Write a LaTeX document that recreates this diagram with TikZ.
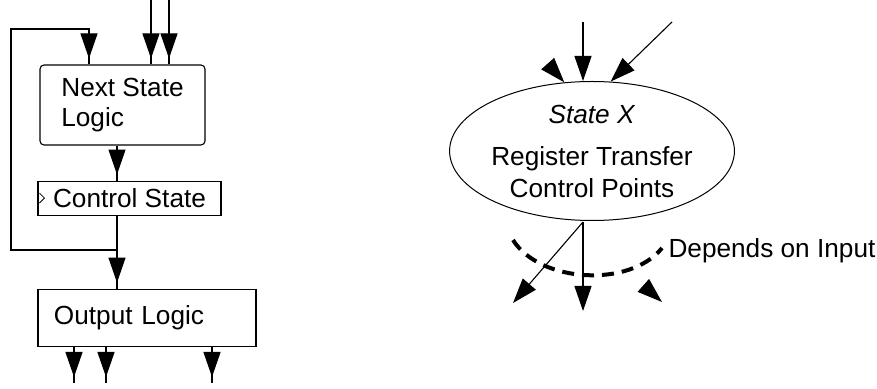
\documentclass[tikz,border=0pt]{standalone}
\usepackage{fontspec}
\setmainfont{Liberation Sans}
\usetikzlibrary{arrows.meta,positioning,shapes.geometric,decorations.markings}

\begin{document}
\begin{tikzpicture}[x=0.5pt,y=-0.5pt,>={Triangle[length=12.5pt,width=8.5pt]},
  line width=0.55pt,
  every node/.style={font=\fontsize{13.1}{15}\selectfont},
  logic box/.style={draw,rectangle,inner sep=0pt},
  state node/.style={draw,ellipse,inner sep=0pt,align=center,line width=0.5pt,
    minimum width=140.5pt,minimum height=69.5pt,
    font=\fontsize{13.1}{16}\selectfont},
  tip before/.style={postaction={decorate},decoration={markings,
    mark=at position -3pt with {\arrow{>}}}},
  depend line/.style={line width=2pt,dash pattern=on 6pt off 4pt}]
  \useasboundingbox (0,0) rectangle (877,389);

  % left: next state logic, control state, output logic
  \node[logic box,rounded corners=2pt,minimum width=82.5pt,minimum height=40pt,
    align=left] (nsl) at (122.5,105) {Next State\\Logic};
  \node[logic box,minimum width=91.5pt,minimum height=17pt] (cs)
    [below=17.5pt of nsl.south west,anchor=north west,xshift=-1pt] {Control State};
  \node[logic box,minimum height=28.5pt,text width=93pt,inner xsep=8pt,
    align=left] (olog) [below=36.5pt of cs.south west,anchor=north west]
    {Output Logic};
  \draw[line width=0.4pt] (cs.west) ++(2,-5) -- ++(5,5) -- ++(-5,5);

  \coordinate (j) at (117,250);
  \coordinate (fb) at (11,29);
  \coordinate (fbin) at (89,29);
  \coordinate (in1) at (151,0);
  \coordinate (in2) at (169,0);
  \coordinate (out1) at (74,383);
  \coordinate (out2) at (106,383);
  \coordinate (out3) at (212,383);

  \draw[tip before] (in1) -- (in1 |- nsl.north);
  \draw[tip before] (in2) -- (in2 |- nsl.north);
  \draw[tip before] (nsl.south -| j) -- (cs.north -| j);
  \draw (cs.south -| j) -- (j);
  \draw[tip before] (j) -- (olog.north -| j);
  \draw[tip before] (j) -| (fb) -- (fbin) -- (fbin |- nsl.north);
  \draw[tip before] (olog.south -| out1) -- (out1);
  \draw[tip before] (olog.south -| out2) -- (out2);
  \draw[tip before] (olog.south -| out3) -- (out3);

  % right: one state of the chart
  \node[state node] (sx) at (592,151)
    {\textit{State X}\\[5pt]Register Transfer\\Control Points};
  \node[anchor=base west,inner sep=0pt] (dep) at (668,258) {Depends on Input};

  \coordinate (a1) at (583,22);
  \coordinate (a2) at (672,22);
  \coordinate (tl) at (548,64);
  \coordinate (bot) at (583,222);
  \coordinate (o1) at (513,303);
  \coordinate (o2) at (583,311);
  \coordinate (br) at (644,286);
  \coordinate (brt) at (662,302);
  \coordinate (dl) at (513,240);
  \coordinate (dr) at (662,248);

  \draw[->] (a1) -- (a1 |- sx.north);
  \draw[->] (a2) -- (sx.75);
  \draw[->] (tl) -- (sx.112);
  \draw[->] (bot) -- (o1);
  \draw[->] (bot) -- (o2);
  \draw[->] (br) -- (brt);
  \draw[depend line] (dl) .. controls (540,283) and (630,288) .. (dr);
\end{tikzpicture}
\end{document}
